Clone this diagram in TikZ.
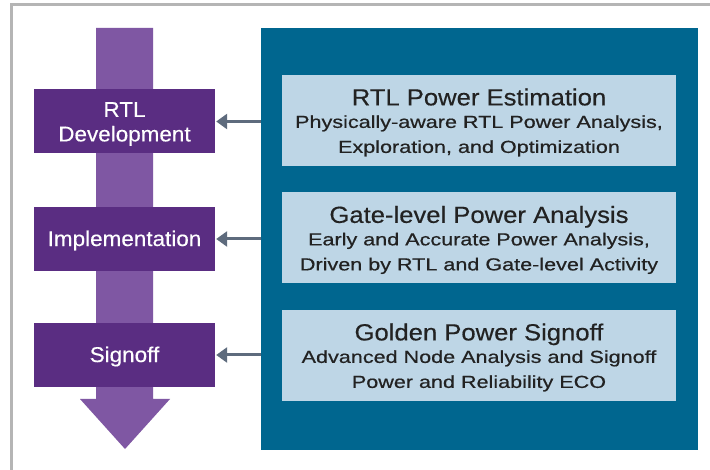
\documentclass[tikz,border=0pt]{standalone}
\usepackage{fontspec}
\setmainfont{Liberation Sans}
\newfontfamily\titlefam[FakeStretch=1.1,FakeBold=0.4]{Liberation Sans}
\newfontfamily\subfam[FakeStretch=1.24,FakeBold=0.6]{Liberation Sans}
\newfontfamily\stagefam[FakeStretch=1.05,FakeBold=0.3]{Liberation Sans}
\usetikzlibrary{arrows.meta}
\definecolor{borderg}{HTML}{B5B5B5}
\definecolor{shaftp}{HTML}{7F57A3}
\definecolor{boxp}{HTML}{5A2D82}
\definecolor{panelb}{HTML}{00668F}
\definecolor{lightb}{HTML}{BED6E6}
\definecolor{arrg}{HTML}{5E6B7D}
\definecolor{txtd}{HTML}{222222}
\newcommand{\titlef}{\titlefam\fontsize{23.3}{25}\selectfont}
\newcommand{\subf}{\subfam\fontsize{17.4}{25}\selectfont}
\newcommand{\stagef}{\stagefam\fontsize{21.4}{24.5}\selectfont}
\begin{document}
\begin{tikzpicture}[x=1pt,y=-1pt,
  stagebox/.style={fill=boxp,minimum width=181pt,minimum height=64pt,inner sep=0pt},
  stagetext/.style={text=white,inner sep=0pt,align=center,font=\stagef},
  infobox/.style={fill=lightb,minimum width=394pt,minimum height=91pt,inner sep=0pt},
  infotext/.style={text=txtd,inner sep=0pt,align=center,font=\subf},
  linkarrow/.style={draw=arrg,line width=3pt,-{Triangle[length=11pt,width=15pt]}}
]
\useasboundingbox (0,0) rectangle (710,470);
\fill[white] (0,0) rectangle (710,470);
% frame
\draw[borderg,line width=3pt] (11.5,475) -- (11.5,5) -- (715,5);
% big flow arrow
\fill[shaftp] (96,28) -- (153,28) -- (153,399) -- (170,399) -- (125,449) -- (80,399) -- (96,399) -- cycle;
% blue panel
\node[fill=panelb,minimum width=437pt,minimum height=422pt,inner sep=0pt,anchor=north west] (panel) at (261,28) {};
% stage boxes
\node[stagebox] (s1) at (124.5,121.5) {};
\node[stagebox] (s2) at (124.5,239) {};
\node[stagebox] (s3) at (124.5,355) {};
\node[stagetext] (t1) at ([yshift=-2.5pt]s1.center) {RTL\\Development};
\node[stagetext] (t2) at ([yshift=-1.5pt]s2.center) {Implementation};
\node[stagetext] (t3) at ([yshift=-1.5pt]s3.center) {Signoff};
% info boxes
\node[infobox] (b1) at (479,120.5) {};
\node[infobox] (b2) at (479,238) {};
\node[infobox] (b3) at (479,355.5) {};
\node[infotext] (i1) at ([yshift=-2pt]b1.center) {{\titlef RTL Power Estimation}\\[-2.5pt]Physically-aware RTL Power Analysis,\\Exploration, and Optimization};
\node[infotext] (i2) at ([yshift=-2pt]b2.center) {{\titlef Gate-level Power Analysis}\\[-2.5pt]Early and Accurate Power Analysis,\\Driven by RTL and Gate-level Activity};
\node[infotext] (i3) at ([yshift=-2pt]b3.center) {{\titlef Golden Power Signoff}\\[-2.5pt]Advanced Node Analysis and Signoff\\Power and Reliability ECO};
% connectors
\draw[linkarrow] (panel.west |- s1.east) -- ([xshift=1pt]s1.east);
\draw[linkarrow] (panel.west |- s2.east) -- ([xshift=1pt]s2.east);
\draw[linkarrow] (panel.west |- s3.east) -- ([xshift=1pt]s3.east);
\end{tikzpicture}
\end{document}
